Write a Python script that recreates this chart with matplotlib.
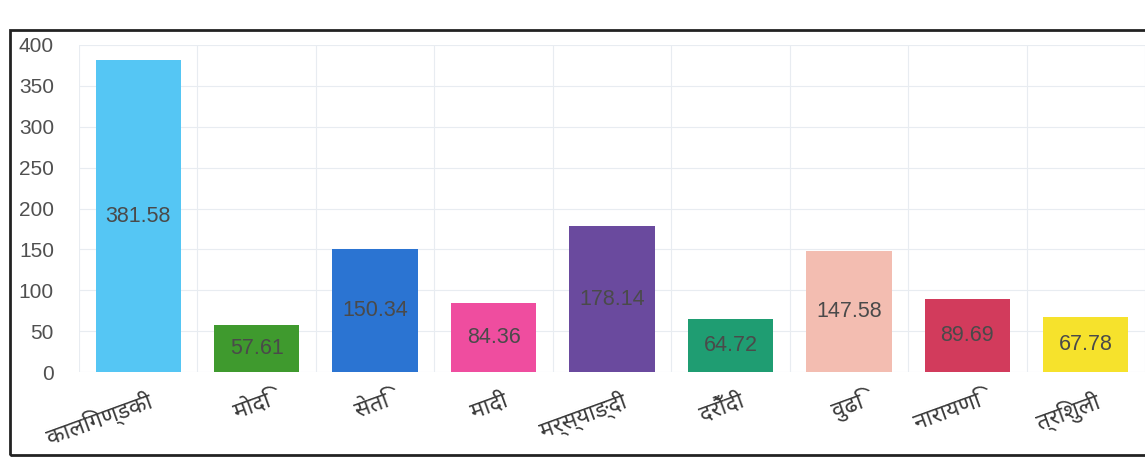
import matplotlib
matplotlib.use("Agg")
import matplotlib.pyplot as plt
from matplotlib.patches import Rectangle
from matplotlib.transforms import ScaledTranslation

categories = ["कालिगण्डकी", "मोदि", "सेति", "मादी", "मर्स्याङ्दी", "दरौँदी", "वुढि", "नारायणि", "त्रिशुली"]
values = [381.58, 57.61, 150.34, 84.36, 178.14, 64.72, 147.58, 89.69, 67.78]
value_labels = ["381.58", "57.61", "150.34", "84.36", "178.14", "64.72", "147.58", "89.69", "67.78"]
colors = ["#55c6f4", "#3f9a2e", "#2b74d2", "#ef4d9f", "#6a4a9e", "#1f9d72", "#f3bdb1", "#d23b5c", "#f6e22c"]
yticks = [0, 50, 100, 150, 200, 250, 300, 350, 400]

W, H = 1145, 459
fig = plt.figure(figsize=(W / 100, H / 100), dpi=100)
fig.patch.set_facecolor("white")

label_font = ["Noto Sans Devanagari", "Lohit Devanagari", "FreeSans", "Noto Sans", "DejaVu Sans"]
num_font = ["Liberation Sans", "DejaVu Sans"]

left_px, right_px = 79, 1145
bottom_px, top_px = 372, 45
ax = fig.add_axes([left_px / W, (H - bottom_px) / H, (right_px - left_px) / W, (bottom_px - top_px) / H])

x = list(range(len(categories)))
ax.bar(x, values, width=0.72, color=colors, zorder=2)
for xi, v, lab in zip(x, values, value_labels):
    ax.text(xi, v / 2, lab, ha="center", va="center", fontsize=15.5,
            color="#4a4a4a", family=num_font, zorder=3)

ax.set_xlim(-0.5, len(categories) - 0.5)
ax.set_ylim(0, 400)
ax.set_yticks(yticks)
ax.set_yticklabels([str(t) for t in yticks], fontsize=15, color="#505050", family=num_font)
ax.set_xticks(x)
ax.set_xticklabels(categories, rotation=20, fontsize=16.5, color="#3a3a3a",
                   family=label_font, ha="right", rotation_mode="anchor")
ax.tick_params(axis="y", length=0, pad=18)
ax.tick_params(axis="x", length=0, pad=12)
offset = ScaledTranslation(9 / 100, 0, fig.dpi_scale_trans)
for t in ax.get_xticklabels():
    t.set_transform(t.get_transform() + offset)

ax.set_xticks([i + 0.5 for i in range(-1, len(categories))], minor=True)
ax.grid(True, axis="y", color="#e8ecf1", linewidth=0.8, zorder=0)
ax.grid(True, axis="x", which="minor", color="#e8ecf1", linewidth=0.8, zorder=0)
ax.tick_params(axis="x", which="minor", length=0)
for s in ax.spines.values():
    s.set_visible(False)

# outer scanned frame
frame = Rectangle((10 / W, 4 / H), (W + 20 - 10) / W, (H - 30 - 4) / H,
                  transform=fig.transFigure, fill=False, edgecolor="#222222",
                  linewidth=2, zorder=10)
fig.patches.append(frame)

fig.savefig("out.png", dpi=100, facecolor="white")
